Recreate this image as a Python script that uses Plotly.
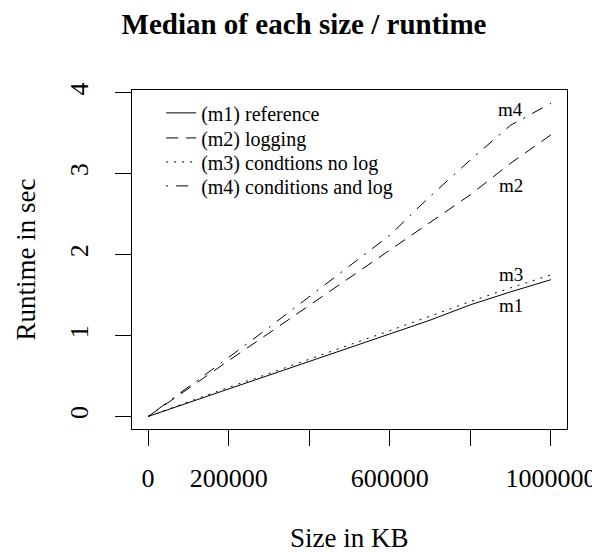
import plotly.graph_objects as go

# ---- data ----
size_kb = [0, 100000, 200000, 300000, 400000, 500000, 600000, 700000, 800000, 900000, 1000000]
m1_reference = [0, 0.17, 0.34, 0.51, 0.68, 0.85, 1.02, 1.19, 1.38, 1.54, 1.69]
m2_logging = [0, 0.35, 0.69, 1.03, 1.37, 1.71, 2.05, 2.40, 2.74, 3.13, 3.48]
m3_cond_nolog = [0, 0.18, 0.36, 0.53, 0.71, 0.885, 1.06, 1.24, 1.42, 1.59, 1.75]
m4_cond_log = [0, 0.36, 0.73, 1.10, 1.48, 1.86, 2.24, 2.72, 3.17, 3.60, 3.87]

series_names = ["(m1) reference", "(m2) logging", "(m3) condtions no log", "(m4) conditions and log"]
series_values = [m1_reference, m2_logging, m3_cond_nolog, m4_cond_log]

label_texts = ["m1", "m2", "m3", "m4"]
label_x = [900000, 900000, 900000, 900000]
label_y = [1.37, 2.85, 1.75, 3.80]

x_tickvals = [0, 200000, 400000, 600000, 800000, 1000000]
x_ticktext = ["0", "200000", "", "600000", "", "1000000"]
y_tickvals = [0, 1, 2, 3, 4]
y_ticktext = ["0", "1", "2", "3", "4"]

# ---- styles ----
FONT = "Liberation Serif"
dashes = ["solid", "12px,8px", "2px,6px", "2px,8px,12px,8px"]
legend_ids = ["legend", "legend2", "legend3", "legend4"]
legend_rows_y = [0.9325, 0.8586, 0.7878, 0.7171]

fig = go.Figure()
for name, vals, d, lid in zip(series_names, series_values, dashes, legend_ids):
    fig.add_trace(go.Scatter(
        x=size_kb, y=vals, mode="lines", name=name, legend=lid,
        line=dict(color="black", width=1, dash=d),
    ))

for t, lx, ly in zip(label_texts, label_x, label_y):
    fig.add_annotation(x=lx, y=ly, xref="x", yref="y", text=t, showarrow=False,
                       font=dict(family=FONT, size=19, color="black"),
                       xanchor="center", yanchor="middle")

# axis titles
fig.add_annotation(x=0.5, y=0, xref="paper", yref="paper", yshift=-109, text="Size in KB",
                   showarrow=False, font=dict(family=FONT, size=27, color="black"),
                   xanchor="center", yanchor="middle")
fig.add_annotation(x=0, y=0.5, xref="paper", yref="paper", xshift=-107, text="Runtime in sec",
                   showarrow=False, textangle=-90, font=dict(family=FONT, size=27, color="black"),
                   xanchor="center", yanchor="middle")

axis_common = dict(
    showline=True, mirror=True, linecolor="black", linewidth=1, automargin=False,
    showgrid=False, zeroline=False, ticks="outside", ticklen=16, tickcolor="black",
    tickwidth=1, tickfont=dict(family=FONT, size=26, color="black"),
)

legend_layout = {}
for lid, ly in zip(legend_ids, legend_rows_y):
    legend_layout[lid] = dict(x=0.067, y=ly, xanchor="left", yanchor="middle",
                              bgcolor="rgba(0,0,0,0)", borderwidth=0,
                              font=dict(family=FONT, size=20, color="black"),
                              itemwidth=30, tracegroupgap=0)

fig.update_layout(
    width=592, height=544,
    margin=dict(l=124, r=33, t=82, b=123, autoexpand=False),
    paper_bgcolor="white", plot_bgcolor="white",
    title=dict(text="<b>Median of each size / runtime</b>", x=0.5, xref="container",
               xanchor="center", y=1 - 16 / 544, yref="container", yanchor="middle",
               automargin=False, font=dict(family=FONT, size=29, color="black")),
    xaxis=dict(range=[-40000, 1040000], tickmode="array", tickvals=x_tickvals,
               ticktext=x_ticktext, ticklabelstandoff=10, **axis_common),
    yaxis=dict(range=[-0.155, 4.035], tickmode="array", tickvals=y_tickvals,
               ticktext=y_ticktext, tickangle=-90, ticklabelstandoff=17, **axis_common),
    showlegend=True,
    **legend_layout,
)

fig.write_html("out.html")
